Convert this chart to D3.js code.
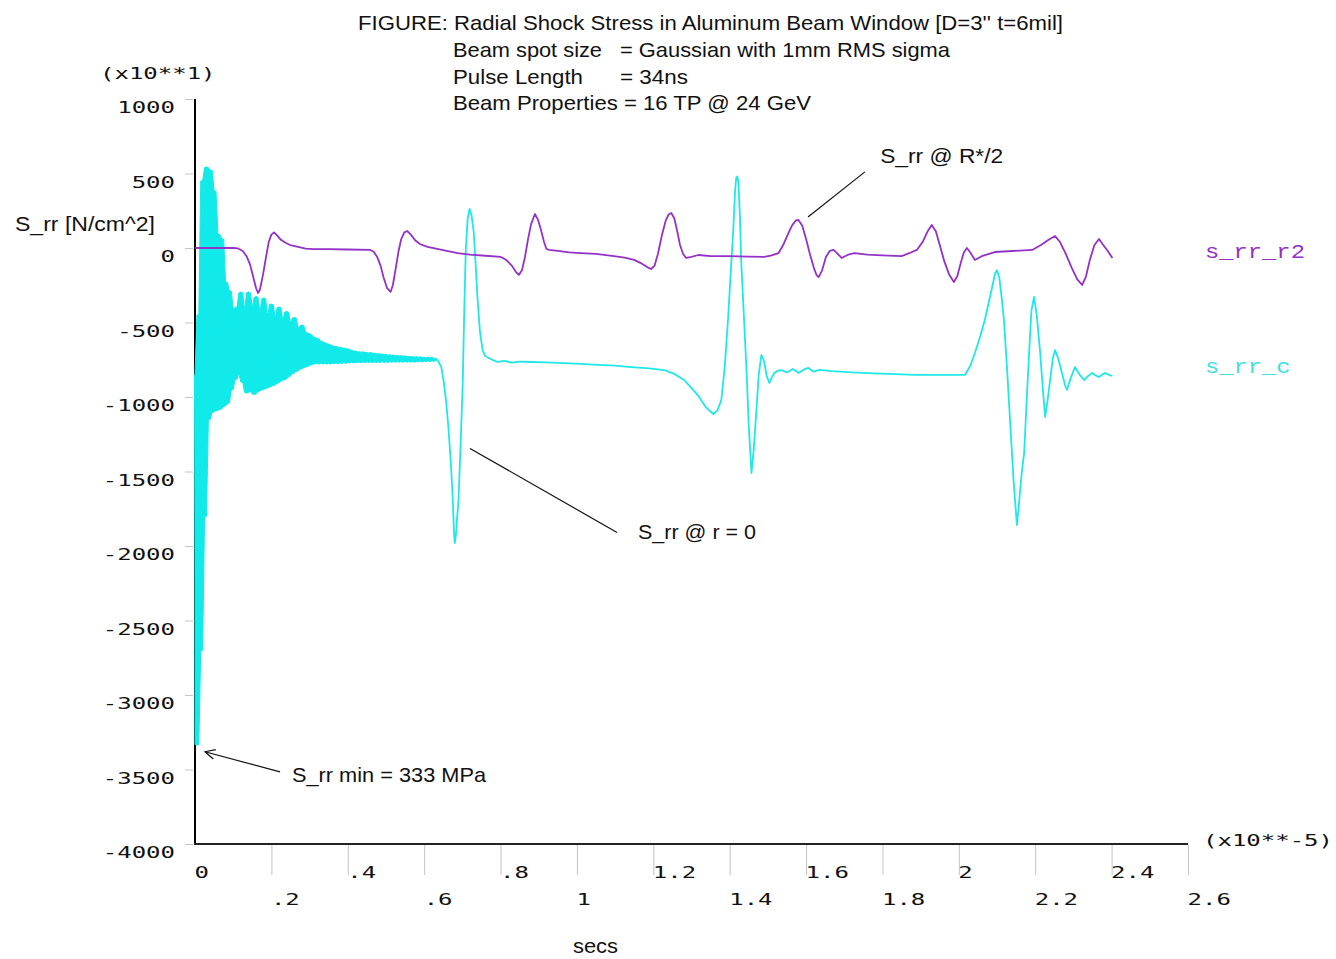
<!DOCTYPE html>
<html><head><meta charset="utf-8">
<script src="https://cdn.jsdelivr.net/npm/d3@7"></script>
<style>body{margin:0;background:#fff}svg{display:block}</style>
</head><body><svg id="c" width="1336" height="959"></svg>
<script>
// ---------- data ----------
const xTickValues = [0, 0.2, 0.4, 0.6, 0.8, 1.0, 1.2, 1.4, 1.6, 1.8, 2.0, 2.2, 2.4, 2.6];
const xTickLabels = ["0", ".2", ".4", ".6", ".8", "1", "1.2", "1.4", "1.6", "1.8", "2", "2.2", "2.4", "2.6"];
const yTickValues = [1000, 500, 0, -500, -1000, -1500, -2000, -2500, -3000, -3500, -4000];
const yTickLabels = ["1000", "500", "0", "-500", "-1000", "-1500", "-2000", "-2500", "-3000", "-3500", "-4000"];

const titleLines = [
  ["FIGURE: Radial Shock Stress in Aluminum Beam Window [D=3'' t=6mil]", ""],
  ["Beam spot size", "= Gaussian with 1mm RMS sigma"],
  ["Pulse Length", "= 34ns"],
  ["Beam Properties = 16 TP @ 24 GeV", ""]
];
const seriesNames = ["s_rr_r2", "s_rr_c"];

// s_rr_r2 (S_rr @ R*/2): [time (x1e-5 s), stress (x10 N/cm^2)]
const purpleSeries = [
  [0,0],[0.05,0],[0.100,0],[0.113,-3],[0.125,-20],[0.135,-55],[0.144,-110],[0.152,-190],[0.160,-270],[0.165,-302],
  [0.170,-280],[0.178,-180],[0.186,-60],[0.193,40],[0.200,90],[0.207,105],[0.215,85],[0.225,55],[0.237,35],[0.249,20],
  [0.27,8],[0.290,-4],[0.310,-7],[0.35,-8],[0.40,-10],[0.459,-13],[0.468,-25],[0.477,-60],[0.486,-120],[0.494,-200],
  [0.503,-270],[0.512,-295],[0.518,-250],[0.526,-130],[0.533,-20],[0.540,60],[0.548,105],[0.556,114],[0.565,90],[0.577,50],
  [0.590,25],[0.609,7],[0.64,-10],[0.688,-34],[0.72,-45],[0.76,-52],[0.801,-60],[0.815,-80],[0.830,-120],[0.840,-160],
  [0.848,-181],[0.856,-150],[0.864,-60],[0.872,60],[0.880,160],[0.890,228],[0.898,190],[0.906,120],[0.914,40],[0.920,-5],
  [0.927,-13],[0.95,-20],[0.98,-30],[1.010,-34],[1.05,-40],[1.097,-54],[1.125,-65],[1.150,-80],[1.170,-105],[1.185,-130],
  [1.194,-141],[1.203,-120],[1.212,-40],[1.222,80],[1.232,180],[1.240,225],[1.247,235],[1.255,200],[1.262,120],[1.270,20],
  [1.278,-40],[1.286,-67],[1.300,-60],[1.318,-47],[1.35,-55],[1.40,-55],[1.45,-58],[1.491,-60],[1.510,-50],[1.528,-34],
  [1.540,20],[1.552,90],[1.563,150],[1.573,185],[1.580,188],[1.590,150],[1.600,60],[1.610,-40],[1.620,-130],[1.627,-180],
  [1.633,-195],[1.642,-150],[1.652,-60],[1.662,-20],[1.672,-13],[1.683,-40],[1.693,-67],[1.710,-45],[1.727,-34],[1.76,-45],
  [1.80,-50],[1.850,-54],[1.870,-35],[1.890,-13],[1.905,40],[1.918,110],[1.929,154],[1.940,110],[1.950,20],[1.962,-90],
  [1.975,-180],[1.987,-228],[1.996,-190],[2.005,-100],[2.013,-30],[2.021,0],[2.030,-30],[2.042,-80],[2.060,-55],[2.094,-27],
  [2.14,-20],[2.192,-13],[2.215,20],[2.235,55],[2.252,80],[2.265,40],[2.280,-40],[2.295,-130],[2.310,-210],[2.323,-248],
  [2.333,-190],[2.343,-80],[2.355,20],[2.367,60],[2.378,20],[2.390,-20],[2.402,-67]
];

// s_rr_c (S_rr @ r = 0): early high-frequency burst, sampled every 0.005 (x1e-5 s)
const cyanBurstStep = 0.005;
const cyanBurstValues = [
  -850,-3333,-450,-2700,450,-1800,540,-1150,520,-1100,
  380,-1090,90,-1080,60,-1060,-230,-1040,-290,-950,
  -410,-880,-400,-840,-300,-900,-420,-970,-300,-960,
  -400,-980,-330,-960,-440,-950,-340,-940,-460,-930,
  -380,-920,-470,-905,-400,-890,-490,-880,-430,-860,
  -500,-840,-470,-825,-540,-810,-520,-800,-570,-790,
  -580,-780,-600,-775,-610,-775,-630,-775,-640,-775,
  -650,-775,-660,-772,-665,-772,-670,-770,-675,-770,
  -680,-768,-690,-768,-695,-766,-700,-766,-700,-765,
  -705,-765,-705,-765,-710,-765,-712,-764,-715,-764,
  -718,-764,-720,-763,-722,-763,-725,-763,-726,-762,
  -728,-762,-730,-762,-732,-762,-733,-760,-735,-760,
  -736,-758,-736,-758,-738,-756,-745
];
// s_rr_c after the burst: [time, stress]
const cyanTail = [
  [0.635,-752],[0.645,-800],[0.651,-893],[0.658,-1040],[0.664,-1221],[0.670,-1450],[0.675,-1691],[0.678,-1900],[0.680,-1980],[0.683,-1930],
  [0.686,-1820],[0.690,-1691],[0.695,-1350],[0.701,-906],[0.705,-420],[0.709,-13],[0.714,200],[0.719,262],[0.724,220],[0.730,101],
  [0.735,-120],[0.740,-349],[0.746,-560],[0.753,-685],[0.760,-725],[0.769,-738],[0.780,-752],[0.793,-765],[0.81,-758],[0.83,-770],
  [0.85,-762],[0.879,-765],[0.92,-768],[0.966,-772],[1.01,-778],[1.055,-785],[1.10,-790],[1.142,-799],[1.19,-808],[1.228,-819],
  [1.255,-845],[1.281,-886],[1.300,-940],[1.318,-993],[1.338,-1070],[1.357,-1114],[1.368,-1090],[1.378,-1020],[1.387,-800],[1.396,-463],
  [1.403,-150],[1.409,101],[1.414,380],[1.417,470],[1.420,480],[1.423,436],[1.427,200],[1.430,-81],[1.437,-450],[1.444,-819],
  [1.450,-1200],[1.457,-1510],[1.463,-1350],[1.470,-1087],[1.476,-850],[1.483,-718],[1.490,-760],[1.497,-860],[1.504,-906],[1.510,-870],
  [1.517,-839],[1.525,-825],[1.535,-819],[1.55,-835],[1.565,-812],[1.58,-838],[1.595,-815],[1.606,-805],[1.62,-830],[1.635,-818],
  [1.667,-826],[1.72,-835],[1.78,-842],[1.885,-852],[1.95,-852],[2.016,-852],[2.030,-790],[2.042,-705],[2.055,-600],[2.068,-483],
  [2.084,-300],[2.095,-170],[2.100,-150],[2.106,-200],[2.112,-330],[2.118,-483],[2.126,-800],[2.134,-1154],[2.143,-1550],[2.152,-1859],
  [2.158,-1700],[2.165,-1500],[2.171,-1376],[2.178,-1000],[2.184,-705],[2.190,-420],[2.197,-329],[2.204,-450],[2.213,-705],[2.220,-950],
  [2.226,-1134],[2.232,-1030],[2.239,-886],[2.246,-740],[2.252,-685],[2.260,-740],[2.270,-839],[2.278,-920],[2.283,-953],[2.292,-880],
  [2.304,-799],[2.316,-850],[2.328,-886],[2.338,-860],[2.349,-839],[2.358,-855],[2.367,-866],[2.375,-850],[2.383,-839],[2.392,-850],
  [2.402,-859]
];

// annotations, anchored in data units
const annotations = [
  {text: "S_rr @ R*/2", at: [1.794, 571], len: 123, from: [1.754, 511], to: [1.605, 208], arrow: false},
  {text: "S_rr @ r = 0", at: [1.160, -1950], len: 118, from: [1.105, -1909], to: [0.720, -1345], arrow: false},
  {text: "S_rr min = 333 MPa", at: [0.254, -3583], len: 194, from: [0.2226, -3516], to: [0.0262, -3381], arrow: true}
];

// ---------- drawing ----------
const svg = d3.select("#c");
svg.append("rect").attr("width", 1336).attr("height", 959).attr("fill", "#fff");

const x = d3.scaleLinear().domain([0, 2.6]).range([195, 1188]);
const y = d3.scaleLinear().domain([-4000, 1000]).range([844, 99]);

const sansFont = "'Liberation Sans Narrow','Arial Narrow','Liberation Sans',Arial,sans-serif";
const monoFont = "'DejaVu Sans Mono',monospace";
const MONO_SIZE = 15, MONO_SX = 1.6;

function label(g, str, px, py, len, opts = {}) {
  const t = g.append("text").attr("x", px).attr("y", py).text(str)
    .attr("font-family", opts.font || sansFont)
    .attr("font-size", opts.size || 21)
    .attr("fill", opts.fill || "#111")
    .attr("text-anchor", opts.anchor || "start");
  if (len) t.attr("textLength", len).attr("lengthAdjust", "spacingAndGlyphs");
  return t;
}
// wide "plotter" style monospace text, stretched horizontally
function monoLabel(g, str, px, py, opts = {}) {
  return g.append("text").text(str)
    .attr("transform", `translate(${px},${py}) scale(${opts.sx || MONO_SX},1)`)
    .attr("font-family", opts.font || monoFont).attr("font-size", opts.size || MONO_SIZE)
    .attr("fill", opts.fill || "#111").attr("text-anchor", opts.anchor || "start");
}

// title block
const tg = svg.append("g");
const titleBase = [30, 57, 83.5, 110];
const titleLens = [[705, 0], [149, 330], [130, 68], [358, 0]];
titleLines.forEach((ln, i) => {
  const x0 = i === 0 ? 358 : 453;
  label(tg, ln[0], x0, titleBase[i], titleLens[i][0]);
  if (ln[1]) label(tg, ln[1], 620, titleBase[i], titleLens[i][1]);
});

// axes
const yAxis = d3.axisLeft(y).tickValues(yTickValues).tickSize(8)
  .tickFormat((d, i) => yTickLabels[i]);
const gy = svg.append("g").attr("transform", "translate(193,0)").call(yAxis);
gy.select(".domain").remove();
gy.selectAll(".tick line").attr("stroke", "#c4c4c4").attr("stroke-width", 1);
gy.selectAll(".tick text")
  .attr("x", 0).attr("dy", null).attr("y", 0)
  .attr("transform", `translate(-18,13.5) scale(${MONO_SX},1)`)
  .attr("text-anchor", "end").attr("font-family", monoFont).attr("font-size", MONO_SIZE).attr("fill", "#111");

const xAxis = d3.axisBottom(x).tickValues(xTickValues).tickSize(30)
  .tickFormat((d, i) => xTickLabels[i]);
const gx = svg.append("g").attr("transform", "translate(0,845)").call(xAxis);
gx.select(".domain").remove();
gx.selectAll(".tick line").attr("stroke", "#c4c4c4").attr("stroke-width", 1)
  .attr("opacity", d => d === 0 ? 0 : 1);
gx.selectAll(".tick text")
  .attr("dy", null).attr("y", 0).attr("x", 0)
  .attr("transform", (d, i) => `translate(-1,${i % 2 === 0 ? 32.5 : 59.5}) scale(${MONO_SX},1)`)
  .attr("text-anchor", "start").attr("font-family", monoFont).attr("font-size", MONO_SIZE).attr("fill", "#111");

// axis lines
svg.append("line").attr("x1", x(0)).attr("x2", x(0)).attr("y1", y(1000)).attr("y2", y(-4000) + 1)
  .attr("stroke", "#000").attr("stroke-width", 2);
svg.append("line").attr("x1", x(0) - 1).attr("x2", x(2.6)).attr("y1", y(-4000)).attr("y2", y(-4000))
  .attr("stroke", "#222").attr("stroke-width", 2);

// exponent labels
monoLabel(svg, "(x10**1)", 100, 78.5);
monoLabel(svg, "(x10**-5)", 1203, 845.5);

// axis titles
label(svg, "S_rr [N/cm^2]", 15, 231, 140);
label(svg, "secs", 573, 953, 45, {size: 20});

// series
const line = d3.line().x(d => x(d[0])).y(d => y(d[1])).curve(d3.curveLinear);
const cyanBurst = cyanBurstValues.map((v, i) => [i * cyanBurstStep, v]);

// the burst oscillates faster than the pixel grid: fill the band spanned by neighbouring samples
const burstBand = cyanBurst.map((p, i) => {
  const nb = cyanBurstValues.slice(Math.max(0, i - 1), i + 2);
  return [p[0], d3.min(nb), d3.max(nb)];
});
svg.append("path").datum(burstBand)
  .attr("d", d3.area().x(d => x(d[0])).y0(d => y(d[1])).y1(d => y(d[2])).curve(d3.curveLinear))
  .attr("fill", "#12eaea").attr("stroke", "#12eaea").attr("stroke-width", 1);
svg.append("path").datum(cyanBurst.concat([cyanTail[0]])).attr("d", line)
  .attr("fill", "none").attr("stroke", "#12eaea").attr("stroke-width", 2.2).attr("stroke-linejoin", "round");
svg.append("path").datum(cyanTail).attr("d", line)
  .attr("fill", "none").attr("stroke", "#1ee8e8").attr("stroke-width", 1.8).attr("stroke-linejoin", "round");
svg.append("path").datum(purpleSeries).attr("d", line)
  .attr("fill", "none").attr("stroke", "#9431c9").attr("stroke-width", 1.8).attr("stroke-linejoin", "round");

// series name labels
const legFont = "'Liberation Mono','Courier New',monospace";
monoLabel(svg, seriesNames[0], 1205, 258, {font: legFont, size: 20, sx: 1.19, fill: "#9431c9"});
monoLabel(svg, seriesNames[1], 1205, 373, {font: legFont, size: 20, sx: 1.19, fill: "#3fe0e0"});

// annotations
const ag = svg.append("g");
annotations.forEach(a => {
  ag.append("line").attr("x1", x(a.from[0])).attr("y1", y(a.from[1]))
    .attr("x2", x(a.to[0])).attr("y2", y(a.to[1]))
    .attr("stroke", "#111").attr("stroke-width", 1.2);
  if (a.arrow) {
    const x1 = x(a.from[0]), y1 = y(a.from[1]), x2 = x(a.to[0]), y2 = y(a.to[1]);
    const ang = Math.atan2(y2 - y1, x2 - x1), L = 11, w = 0.45;
    ag.append("path")
      .attr("d", `M${x2 - L * Math.cos(ang - w)},${y2 - L * Math.sin(ang - w)}L${x2},${y2}L${x2 - L * Math.cos(ang + w)},${y2 - L * Math.sin(ang + w)}`)
      .attr("fill", "none").attr("stroke", "#111").attr("stroke-width", 1.2);
  }
  label(ag, a.text, x(a.at[0]), y(a.at[1]), a.len);
});
</script>
</body></html>
